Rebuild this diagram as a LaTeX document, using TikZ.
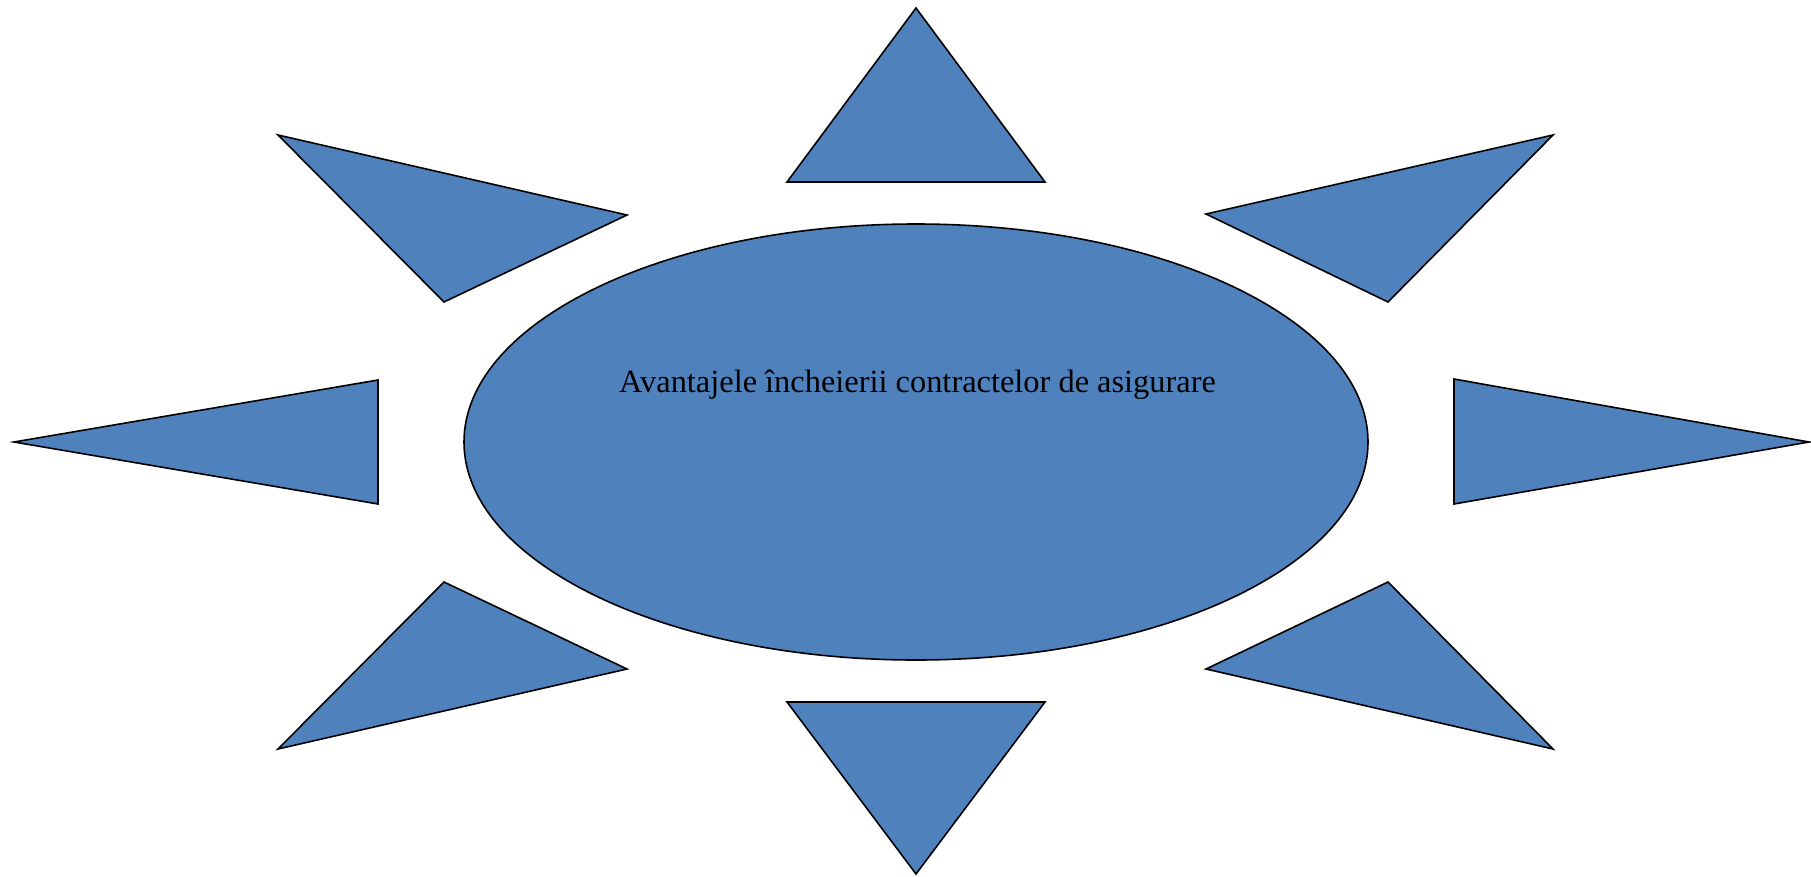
\documentclass[tikz,border=0pt]{standalone}
\usepackage{fontspec}
\setmainfont{Liberation Serif}
\usepackage{tikz}
\usetikzlibrary{positioning}
\definecolor{raz}{RGB}{79,129,189}

\begin{document}
\begin{tikzpicture}[x=1pt,y=-1pt,ray/.style={fill=raz,draw=black,line width=1.6pt,line join=miter}]
  \useasboundingbox (0,0) rectangle (1811,876);
  % centrul
  \draw[ray] (916,442) ellipse [x radius=452, y radius=218];
  \node[font=\fontsize{32.4}{38}\selectfont,anchor=base west,inner sep=0pt] (titlu) at (619,392) {Avantajele încheierii contractelor de asigurare};
  % razele
  \draw[ray] (916,8)--(1045,182)--(787,182)--cycle;
  \draw[ray] (916,874)--(1045,702)--(787,702)--cycle;
  \draw[ray] (14,442)--(378,380)--(378,504)--cycle; \draw[ray] (1809,442)--(1454,379)--(1454,504)--cycle;
  \draw[ray] (278,135)--(627,215)--(444,302)--cycle; \draw[ray] (1553,135)--(1206,214)--(1388,302)--cycle;
  \draw[ray] (278,749)--(627,669)--(444,582)--cycle; \draw[ray] (1553,749)--(1206,669)--(1388,582)--cycle;
\end{tikzpicture}
\end{document}
